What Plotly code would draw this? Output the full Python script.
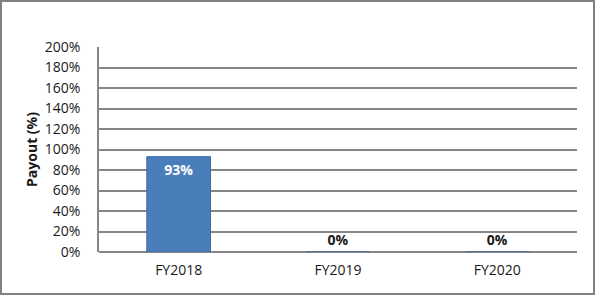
import plotly.graph_objects as go

categories = ["FY2018", "FY2019", "FY2020"]
payout = [93, 0, 0]
labels = ["93%", "0%", "0%"]
y_ticks = list(range(0, 201, 20))
y_tick_labels = [f"{v}%" for v in y_ticks]

FONT = "Open Sans, Liberation Sans, sans-serif"

fig = go.Figure()
fig.add_trace(go.Bar(
    x=categories,
    y=payout,
    text=labels,
    textposition=["inside", "outside", "outside"],
    insidetextanchor="end",
    insidetextfont=dict(color="white", size=14, family=FONT, weight="bold"),
    outsidetextfont=dict(color="#1a1a1a", size=14, family=FONT, weight="bold"),
    marker=dict(color="#4a7ebb", line=dict(color="#3d6aa3", width=1)),
    width=0.4,
    cliponaxis=False,
    hoverinfo="skip",
))

fig.update_layout(
    width=595, height=295,
    margin=dict(l=99, r=18, t=47, b=43),
    paper_bgcolor="white",
    plot_bgcolor="white",
    showlegend=False,
    font=dict(family=FONT, size=14, color="#1a1a1a"),
    xaxis=dict(
        showgrid=False,
        showline=False,
        ticks="",
        tickfont=dict(size=14),
        ticklabelstandoff=8,
    ),
    yaxis=dict(
        range=[0, 200],
        tickvals=y_ticks,
        ticktext=y_tick_labels,
        showgrid=True,
        gridcolor="#868686",
        gridwidth=1.5,
        showline=True,
        linecolor="#868686",
        linewidth=1.5,
        zeroline=True,
        zerolinecolor="#868686",
        zerolinewidth=1.5,
        ticks="",
        ticklabelstandoff=14,
        title=dict(text="<b>Payout (%)</b>", font=dict(size=14), standoff=4),
    ),
)
# outer border spanning the whole figure
fig.add_shape(type="rect", xref="paper", yref="paper",
              x0=-99/478 + 1/478, x1=1 + 17/478, y0=-43/205 + 1/205, y1=1 + 46/205,
              line=dict(color="#808080", width=2), layer="above")

fig.write_html("out.html")
